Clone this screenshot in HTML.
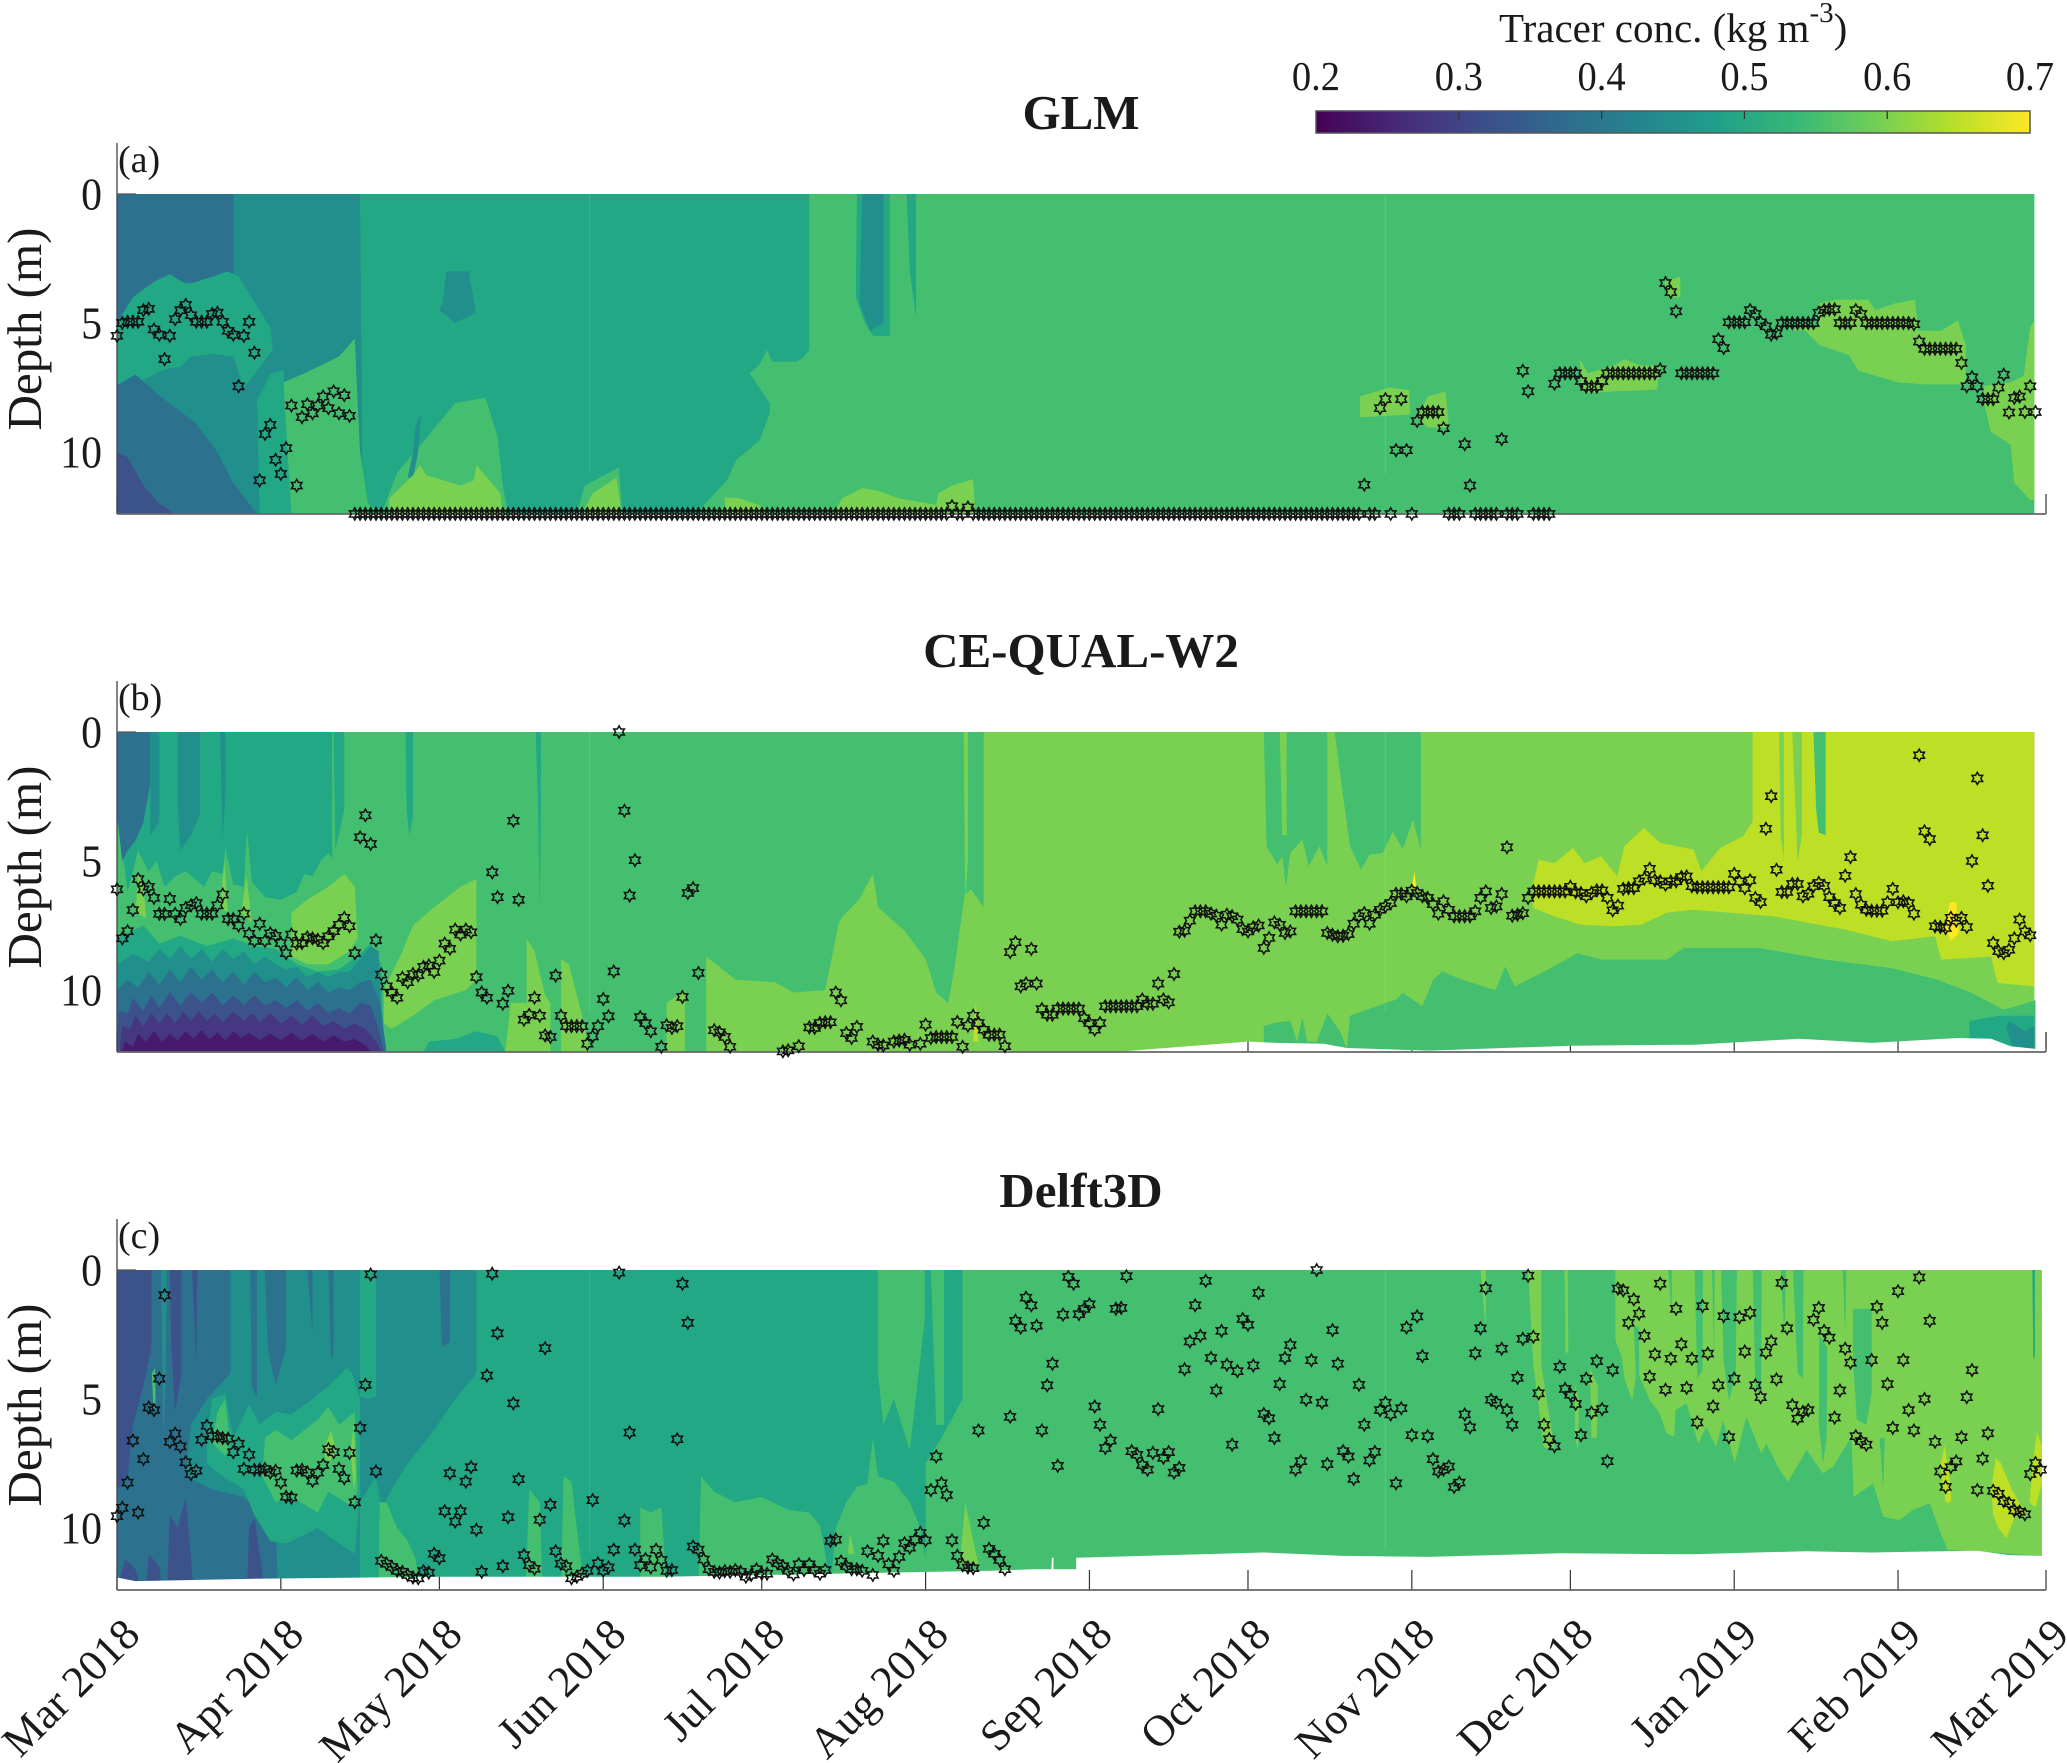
<!DOCTYPE html>
<html lang="en">
<head>
<meta charset="utf-8">
<title>Tracer concentration: GLM, CE-QUAL-W2, Delft3D</title>
<style>
html,body{margin:0;padding:0;background:#fff;}
svg{display:block;font-family:"Liberation Serif",serif;fill:#1a1a1a;}
</style>
</head>
<body>
<svg id="figure" xmlns="http://www.w3.org/2000/svg" width="2067" height="1763" viewBox="0 0 2067 1763">
  <defs>
    <linearGradient id="viridis" x1="0" x2="1" y1="0" y2="0">
      <stop offset="0" stop-color="#440154"/><stop offset="0.111" stop-color="#482878"/>
      <stop offset="0.222" stop-color="#3e4a89"/><stop offset="0.333" stop-color="#31688e"/>
      <stop offset="0.444" stop-color="#26828e"/><stop offset="0.556" stop-color="#1f9e89"/>
      <stop offset="0.667" stop-color="#35b779"/><stop offset="0.778" stop-color="#6ece58"/>
      <stop offset="0.889" stop-color="#b5de2b"/><stop offset="1" stop-color="#fde725"/>
    </linearGradient>
  </defs>
  <rect x="0" y="0" width="2067" height="1763" fill="#fff"/>
  <text x="1499" y="42" font-size="41">Tracer conc. (kg m<tspan dy="-20" font-size="29">-3</tspan><tspan dy="20">)</tspan></text>
  <rect x="1316" y="111" width="714" height="22" fill="url(#viridis)" stroke="#555" stroke-width="1.5"/>
  <text x="1081" y="129" font-size="49" font-weight="bold" text-anchor="middle">GLM</text>
  <text x="1081" y="667" font-size="49" font-weight="bold" text-anchor="middle">CE-QUAL-W2</text>
  <text x="1081" y="1207" font-size="49" font-weight="bold" text-anchor="middle">Delft3D</text>
  <g id="colorbar-axis"></g>
  <g id="panels"></g>
</svg>
<script>
const _ = null;

/* Axis categories and tick labels */
const monthDays = [0,31,61,92,122,153,184,214,245,275,306,337,365];
const monthLabels = ["Mar 2018","Apr 2018","May 2018","Jun 2018","Jul 2018","Aug 2018","Sep 2018","Oct 2018","Nov 2018","Dec 2018","Jan 2019","Feb 2019","Mar 2019"];
const depthTicks = [0,5,10];
const colorbarTicks = [0.2,0.3,0.4,0.5,0.6,0.7];
const panelLetters = ["(a)","(b)","(c)"];
const levelColors = ["#481a6c","#453781","#3b528b","#2c728e","#21908c","#22a884","#44bf70","#7ad151","#bddf26","#fde725"];
const seamDays = [89.4,240];

/* Observed tracer depth (m), one value per day from 1 Mar 2018; ten values per row */
const depthA = [
5.5,5,4.95,4.95,4.95,4.5,4.45,5.25,5.45,6.4,
5.5,4.85,4.5,4.3,4.7,4.95,4.95,4.95,4.65,4.6,
4.95,5.3,5.45,7.45,5.5,4.95,6.15,11.1,9.3,8.95,
10.3,10.85,9.85,8.2,11.3,8.65,8.15,8.5,8.2,7.85,
8.3,7.65,8.5,7.8,8.6,12.4,12.4,12.4,12.4,12.4,
12.4,12.4,12.4,12.4,12.4,12.4,12.4,12.4,12.4,12.4,
12.4,12.4,12.4,12.4,12.4,12.4,12.4,12.4,12.4,12.4,
12.4,12.4,12.4,12.4,12.4,12.4,12.4,12.4,12.4,12.4,
12.4,12.4,12.4,12.4,12.4,12.4,12.4,12.4,12.4,12.4,
12.4,12.4,12.4,12.4,12.4,12.4,12.4,12.4,12.4,12.4,
12.4,12.4,12.4,12.4,12.4,12.4,12.4,12.4,12.4,12.4,
12.4,12.4,12.4,12.4,12.4,12.4,12.4,12.4,12.4,12.4,
12.4,12.4,12.4,12.4,12.4,12.4,12.4,12.4,12.4,12.4,
12.4,12.4,12.4,12.4,12.4,12.4,12.4,12.4,12.4,12.4,
12.4,12.4,12.4,12.4,12.4,12.4,12.4,12.4,12.4,12.4,
12.4,12.4,12.4,12.4,12.4,12.4,12.4,12.4,12.1,12.4,
12.4,12.15,12.4,12.4,12.4,12.4,12.4,12.4,12.4,12.4,
12.4,12.4,12.4,12.4,12.4,12.4,12.4,12.4,12.4,12.4,
12.4,12.4,12.4,12.4,12.4,12.4,12.4,12.4,12.4,12.4,
12.4,12.4,12.4,12.4,12.4,12.4,12.4,12.4,12.4,12.4,
12.4,12.4,12.4,12.4,12.4,12.4,12.4,12.4,12.4,12.4,
12.4,12.4,12.4,12.4,12.4,12.4,12.4,12.4,12.4,12.4,
12.4,12.4,12.4,12.4,12.4,12.4,12.4,12.4,12.4,12.4,
12.4,12.4,12.4,12.4,12.4,12.4,11.27,12.4,12.4,8.3,
7.95,12.4,9.93,7.95,9.93,12.4,8.8,8.45,8.45,8.45,
8.45,9.08,12.4,12.4,12.4,9.7,11.3,12.4,12.4,12.4,
12.4,12.4,9.5,12.4,12.4,12.4,6.85,7.65,12.4,12.4,
12.4,12.4,7.35,6.95,6.95,6.95,6.95,7.25,7.47,7.47,
7.47,7.25,6.95,6.95,6.95,6.95,6.95,6.95,6.95,6.95,
6.95,6.95,6.8,3.45,3.8,4.55,6.95,6.95,6.95,6.95,
6.95,6.95,6.95,5.63,5.97,4.97,4.97,4.97,4.97,4.5,
4.65,4.97,5.13,5.45,5.4,5,5,5,5,5,
5,5,4.6,4.5,4.47,4.47,5,5,5,4.5,
4.65,5,5,5,5,5,5,5,5,5,
5.05,5.72,6,6,6,6,6,6,6,6.55,
7.45,7.1,7.45,7.95,7.95,7.95,7.5,7,8.47,7.9,
7.85,8.45,7.45,8.45];

const depthB = [
6.1,8,7.72,6.9,5.7,6.1,6,6.43,7.05,7.05,
6.47,7.05,7.25,6.82,6.72,6.63,7.04,7.04,7.04,6.72,
6.3,7.25,7.25,7.5,7.04,7.82,8.1,7.43,8.1,7.8,
7.9,8.18,8.57,7.85,8.2,8.18,7.96,8,8.05,8.18,
7.92,7.72,7.47,7.2,7.53,8.57,4.08,3.23,4.34,8.07,
9.4,9.86,10.1,10.3,9.53,9.7,9.38,9.43,9.1,9.05,
9.3,8.86,8.2,8.4,7.66,7.85,7.66,7.76,9.5,10.1,
10.3,5.44,6.4,10.53,10.03,3.44,6.5,11.15,10.96,10.3,
11,11.76,11.82,9.44,11,11.4,11.4,11.4,11.4,12.08,
11.8,11.4,10.35,11.02,9.28,0,3.05,6.34,4.97,11.05,
11.28,11.6,_,12.2,11.37,11.47,11.4,10.27,6.24,6.05,
9.34,_,_,11.56,11.64,11.82,12.2,_,_,_,
_,_,_,_,_,_,12.38,12.34,_,12.18,
_,11.45,11.47,11.28,11.25,11.25,10.1,10.4,11.67,11.86,
11.43,_,_,12,12.12,12.15,_,12,11.96,11.93,
12.12,_,12.08,11.34,11.86,11.82,11.82,11.82,11.82,11.24,
12.2,11.38,11,11.28,11.54,11.73,11.73,11.73,12.18,8.53,
8.15,9.86,9.75,8.41,9.75,10.74,10.96,10.96,10.72,10.72,
10.72,10.72,10.72,11.09,11.28,11.54,11.28,10.63,10.63,10.63,
10.63,10.63,10.63,10.63,10.37,10.53,10.53,9.75,10.37,10.48,
9.38,7.74,7.7,7.31,6.95,6.95,6.95,7.04,7.12,7.47,
7.08,7.14,7.27,7.64,7.73,7.57,7.5,8.37,7.98,7.38,
7.47,7.79,7.73,6.95,6.95,6.95,6.95,6.95,6.95,7.79,
7.86,7.92,7.9,7.83,7.43,7.14,7.02,7.43,7.08,6.89,
6.76,6.63,6.27,6.27,6.37,6.15,6.24,6.37,6.43,6.67,
7.04,6.56,6.89,7.14,7.14,7.14,7.14,6.95,6.43,6.18,
6.82,6.76,6.28,4.47,7.12,7.08,7.02,6.43,6.18,6.18,
6.18,6.18,6.18,6.18,6.18,6,6.21,6.24,6.37,6.24,
6.14,6.14,6.43,6.91,6.73,6.08,6.05,6.05,5.79,5.68,
5.3,5.75,5.79,5.92,5.79,5.79,5.62,5.6,5.98,6.02,
6.02,6.02,6.02,6.02,6.02,6.02,5.5,5.79,6.05,5.75,
6.43,6.59,3.75,2.49,5.34,6.2,6.2,5.89,5.89,6.37,
6.27,5.98,5.85,5.96,6.4,6.63,6.82,5.57,4.85,6.28,
6.69,6.89,6.93,6.93,6.93,6.6,6.08,6.6,6.56,6.63,
7.04,0.9,3.85,4.15,7.53,7.56,7.6,7.2,7.31,7.2,
7.56,5,1.8,4,5.96,8.18,8.5,8.57,8.44,8,
7.27,7.73,7.88];

const depthC = [
9.54,9.22,8.24,6.61,9.4,7.33,5.33,5.43,4.21,0.98,
6.66,6.34,6.84,7.45,7.91,7.78,6.58,6.04,6.44,6.44,
6.51,6.54,7.06,6.73,7.71,7.16,7.74,7.74,7.71,7.85,
7.78,8.24,8.79,8.82,7.77,7.74,7.85,8.17,7.85,7.56,
6.95,7.06,7.71,8.07,7.09,9,6.12,4.45,0.17,7.81,
11.27,11.38,11.51,11.66,11.7,11.82,11.92,11.95,11.67,11.73,
11,11.17,9.35,7.88,9.75,9.35,8.2,7.64,10.07,11.7,
4.09,0.14,2.45,11.48,9.58,5.17,8.11,11.05,11.44,11.58,
9.68,3.03,9.1,10.9,11.38,11.48,11.95,11.89,11.77,11.66,
8.92,11.37,11.66,11.53,10.84,0.1,9.71,6.3,10.84,11.44,
11.2,11.53,10.84,11.24,11.66,11.63,6.56,0.53,2.05,10.72,
10.84,11.22,11.6,11.7,11.73,11.67,11.7,11.63,11.7,11.89,
11.82,11.6,11.77,11.77,11.22,11.37,11.48,11.66,11.8,11.41,
11.63,11.41,11.63,11.77,11.63,10.5,10.45,11.3,11.48,11.6,
11.6,11.66,10.9,11.82,11.08,10.5,11.41,11.66,11.12,10.59,
10.76,10.45,10.19,10.48,8.53,7.23,8.27,8.72,10.48,11.08,
11.44,11.53,11.56,6.22,9.8,10.81,11,11.24,11.6,5.69,
1.97,2.23,1.07,1.37,2.16,6.22,4.47,3.63,7.59,1.73,
0.27,0.53,1.71,1.51,1.33,5.29,6,6.9,6.61,1.5,
1.47,0.24,7.02,7.16,7.56,7.74,7.09,5.39,7.28,7.06,
7.85,7.67,3.85,2.77,1.37,2.55,0.42,3.41,4.67,2.36,
3.67,6.77,3.92,1.9,2.12,3.7,0.89,5.58,5.75,6.51,
4.42,3.41,2.91,7.74,7.41,5.03,3.5,0,5.14,7.52,
2.33,3.63,7.02,7.23,8.1,4.45,6,7.38,7.05,5.43,
5.14,5.6,8.27,5.36,2.23,6.4,1.8,3.34,6.44,7.33,
7.81,7.74,7.62,8.41,8.24,5.6,6.1,3.23,2.26,0.71,
5.03,5.14,3.05,5.43,6,4.18,2.67,0.22,2.59,4.78,
6,6.56,6.83,3.75,4.61,4.83,5.19,6.4,4.21,5.53,
3.53,5.39,7.41,3.88,0.72,0.79,2.05,1.14,1.69,2.55,
4.14,3.27,0.53,4.64,3.44,1.5,2.88,4.57,3.44,5.91,
1.4,3.24,5.29,4.47,1.79,6.48,4.21,1.83,3.16,1.66,
4.47,4.93,3.2,2.77,4.24,0.5,2.26,5.24,5.76,5.5,
5.43,1.93,1.47,2.36,2.62,5.72,4.67,3.05,3.59,6.44,
6.63,6.77,3.49,1.43,2.05,4.42,6.12,0.82,3.49,5.43,
6.22,0.29,5,1.97,6.66,7.81,8.41,7.64,7.42,6.48,
4.93,3.88,8.53,7.31,6.33,8.56,8.67,8.96,9.04,9.32,
9.37,9.47,7.91,7.48,7.74];

/* Filled contour regions: [colour level, day, depth, day, depth, ...] painted in order */
const contourA = [
[6, 0,0,362.8,0,362.8,12.4,0,12.4],
[5, 46,0,131,0,131,6.05,130,6.3,128.7,6.5,124,6.5,123,6.05,121.6,6.6,119.7,6.95,123.5,8.1,123.5,8.5,121.6,9.55,117.2,10.3,115.4,11.1,110.4,12.2,110,12.4,46,12.4],
[5, 140,0,146.2,0,146.2,5.5,143,5.5,141.5,5,139.8,4],
[4, 141,0,145,0,145,5,142.5,5.3,140.5,4.2],
[5, 149.4,0,151.2,0,151.2,4.8,150,3],
[4, 0,0,46,0,46.5,12.4,0,12.4],
[3, 0,0,22,0,22,3.2,18,3.2,15,3.5,10,3.3,5,3.7,2,4.4,0,5.2],
[5, 0,5,3,4,7,3.4,10,3.1,13,3.5,15,3.4,18,3.2,21,3,23,3.2,27,4.5,29,5.2,29.5,6,26,7,24,7.5,22,6.3,18,6.2,14,6.3,12,6.7,9,6.8,5,7.2,0,7.4],
[3, 0,7.4,3.5,7,8,7.8,15,8.9,19,10,22,11.2,26.5,12.4,0,12.4],
[2, 0,10,2,10.2,5,11.3,8,12,11,12.4,0,12.4],
[5, 27,12.4,26.5,8,29,7,31.5,6.8,33,12.4],
[6, 33,12.4,32,9,31.5,7.3,36,6.9,42,6.3,45,5.6,45.5,8,46,10,47.5,12,50,12.4],
[6, 50,12.4,53,10.8,58,9.6,64,8.1,69.7,7.9,72,9.4,73,11.3,74,12.4],
[4, 55,11,56,10,56.5,9,57.5,8.5,57,10,56,11],
[7, 51.5,12.4,51.5,11.8,56,10.9,57.3,10.5,58.5,10.9,65,11.3,67.5,11.1,68,10.5,72.5,11.6,73,12.4],
[4, 61,4.5,61.6,4.2,62.3,3,66.6,3,67.9,4.6,64,5],
[6, 87,12.4,88.5,11.3,95,10.6,95.6,12.4],
[7, 88,12.4,90,11.6,94.5,11,95.5,12.4],
[7, 115,12.4,115,11.75,118,11.8,122,12.1,122,12.4],
[7, 135.5,12.4,137.2,11.8,141,11.4,144,11.5,148,11.8,155,12.05,155.4,11.6,158,11.3,162,11.05,162.4,12.4],
[7, 235.2,8.65,235.2,7.85,240.8,7.5,244.5,7.6,244.7,8.55],
[7, 246,8.65,248,7.85,251.4,7.65,252,9.05,248,9.05],
[7, 277,6.95,276.8,6.4,278.3,6.95,283.3,6.65,285.2,6.4,288.3,6.65,292,6.65,291.4,7.58,283.3,7.65,278.3,7.7,277,7.4],
[7, 292.8,3.4,295.8,3.2,295.8,4,293.5,4],
[7, 315.8,5.25,322,5.17,322,4.24,325.2,4.1,331.4,4.1,332.7,4.5,336.4,4.24,340.2,4.1,340.8,5.3,345.2,5.3,348.3,4.9,349.8,5.84,349.8,7.38,342,7.38,337,7.3,329.5,6.85,327.7,6.24,322,5.84,319.5,5.3],
[7, 353.3,8.1,354.5,9.2,358.3,9.72,359,11.2,362,11.85,362.8,11.85,362.8,4.9,362,5.17,360.8,7.05,358.3,7.3,353.3,7.45]
];

const contourB = [
[7, 0,0,362.8,0,362.8,12.4,0,12.4],
[6, 0,0,164,0,164,12.4,0,12.4],
[5, 0,0,40.7,0,40.7,4.9,40,4.7,38.5,5,37,5.6,35.5,5.5,34,6.2,31,6.5,28,6.4,25.5,5.8,24.6,3.8,24,6,22,5.9,20.5,4.5,20,5.5,18,5.4,16.5,6,13,5.4,11,5.6,9,6,7.5,5,6,5.4,4,4.6,2,6.2,0,2.9],
[3, 0,0,6.3,0,6.3,2,5,3.5,3.5,4.2,2,4.6,1,5,0,3.2],
[4, 6.3,0,8,0,8,3.5,6.3,4],
[4, 11.5,0,15.7,0,15.7,3.2,14,4,12,4.6,11.5,3],
[4, 19.5,0,20.5,0,20.5,2.5,20,4.2],
[5, 41,0,43,0,43,3,42,4,41.3,4.5],
[5, 54.6,0,56,0,56,3.3,55.3,4,54.8,3],
[5, 79.2,0,80.2,0,80.2,3,80,7,79.7,3],
[7, 33,7,36,6.5,40,6,43,5.5,45,6,45.5,8,44,8.5,40,9,36,9,33,8.7],
[7, 3.5,7,4,5.5,5,6,5.5,7.2],
[7, 19.5,6.8,20.3,5,21,7],
[7, 23.5,7,24.5,5.6,25.5,7.4],
[5, 0,8,5,7.5,8,8.2,12,7.9,17,8.3,22,8,26,8.3,30,8.4,34,9,38,9.3,42,9.2,46,8.6,48,8.2,50,9,50.5,12.4,0,12.4],
[4, 0,9,3,8.6,6,8.9,8,8.4,10,8.8,12,8.3,14,8.8,16,8.4,18,8.9,20,8.4,22,8.8,24,8.5,26,9,28,8.7,30,9,32,9.2,34,9.1,36,9.5,38,9.3,40,9.5,42,9.3,44,9.3,46,8.8,48,8.3,49.5,8.5,50,11,51,12.4,0,12.4],
[3, 0,12.4,0,10,2,9.6,4,9.9,6,9.3,8,9.8,10,9.2,12,9.7,14,9.1,16,9.6,18,9.2,20,9.7,22,9.3,24,9.8,26,9.3,28,9.7,30,9.5,32,9.9,34,9.5,36,10,38,9.7,40,10.1,42,9.9,44,10,46,9.7,48,9.6,49.8,10.5,51,12.4],
[2, 0,12.4,0.3,10.8,2,10.9,3,10.3,5,10.8,6.5,10.2,8,10.7,10,10.1,12,10.6,14,10.1,16,10.5,18,10.1,20,10.6,22,10.2,24,10.6,26,10.2,28,10.6,30,10.4,32,10.7,34,10.4,36,10.8,38,10.5,40,10.9,42,10.7,44,10.9,46,10.5,48,10.6,49.5,11.5,50.5,12.4],
[1, 0.5,12.4,1,11.4,2.5,11.5,3.5,11,5,11.4,6.5,10.9,8,11.3,9.5,10.9,11,11.3,12.5,10.85,14,11.2,15.5,10.8,17,11.2,18.5,10.9,20,11.25,22,10.85,24,11.2,25.5,10.9,27,11.25,29,10.9,31,11.3,33,11,35,11.35,37,11,39,11.4,41,11.2,43,11.5,45,11.3,47,11.5,49,12,50,12.4],
[0, 1,12.4,1.5,12,3,12.2,4,11.7,5.5,12,7,11.6,8.5,12,10,11.7,11.5,11.95,13,11.6,14.5,11.9,16,11.55,17.5,11.9,19,11.65,20.5,11.95,22,11.6,23.5,11.85,25,11.65,27,11.95,29,11.7,31,11.95,33,11.65,35,11.95,37,11.7,39,12,41,11.75,43,12,45,11.9,47,12.15,48,12.4],
[7, 50.5,10,54,8.5,56,7.5,60,6.8,65,6,68,5.7,68,9.6,66,10,60,10.4,56,11,52,11.5,50.5,11.3],
[5, 58,12.4,59,12,64,11.9,68,11.6,72,11.8,73.5,12.4],
[7, 73.5,12.4,74.5,10.5,77.5,10.5,77.5,12.4],
[7, 77.5,12.4,77.5,8,79,8.5,81,10.2,82,10.5,82,12.4],
[7, 84,12.4,84,8.8,85.5,9,88,11,89.5,12.4],
[7, 104,12.4,104,10.5,107.5,10,107.5,12.4],
[7, 111.5,12.4,111.5,8.7,117,9.6,124.5,9.7,128,10.1,134,10,136.6,7.4,137.3,7.15,140.4,6.5,143,5.5,144,6.8,149,7.7,153,8.8,155,10.1,157.3,10.5,158.5,9.1,160.4,6.3,161.6,6.1,164,6.8,164,12.4],
[7, 160.2,0,161,0,161,5,160.5,6.5],
[8, 162,12,162.5,10.4,163,12],
[6, 217,0,229,0,229,5.2,227.5,4.43,225.5,5.2,224.3,4.17,222,4.69,221.2,6,220.5,4.82,219.5,5.14,217.5,4.43],
[7, 220,0,221.3,0,221.3,4,220.5,4],
[6, 230.4,0,246.7,0,246.7,4.56,245.2,3.4,243.3,4.56,241.4,3.85,239.5,4.69,237,4.75,235.4,5.34,233.3,4.43,232,2.5],
[6, 217,12.4,217,11.4,219.5,11.25,222,11.2,223.3,12,224.3,11.08,225.2,12,227,12,229,10.9,231.4,11.6,232.7,12.25,233.3,11,238.3,10.63,242,10.37,243.3,10.1,247,10.63,249,9.6,250.8,9.28,254.5,9.6,260.8,10,262.7,9.08,264.5,9.86,270.8,9.2,276.4,8.57,280.8,8.82,293.3,8.82,296.4,8.37,310.8,8.37,323.3,8.82,335.8,9.15,344.5,9.6,350.8,10.1,357,10.76,363,10.4,363,12.4],
[5, 350.5,12.4,350.5,11.2,356,11,362.8,11,362.8,12.4],
[4, 357.5,11.5,358,11.2,361,11.6,362.8,11.4,362.8,12.4,359,12.4],
[8, 309.5,0,362.8,0,362.8,9.86,355.8,9.73,354.6,8.7,345.2,8.82,344,7.92,335.8,8.11,327,7.66,313.3,7.14,298.3,6.89,293.3,7,288.3,7.47,283.3,7.53,277,7.47,272,7.14,268,6.82,268,5.85,269,4.95,272,5.08,275.5,4.5,277.7,5.08,280.8,4.82,283.9,5.6,285.2,4.43,288.9,3.72,292,4.3,298.3,4.56,299.8,5.4,303.3,4.5,307.7,4.04,309.5,3.46],
[7, 314.5,0,315.4,0,315.4,4.9,314.8,4],
[7, 317,0,318.8,0,318.8,4,318,5],
[6, 321,0,323.3,0,323.3,4,322,3.9,321.5,3],
[9, 346,7.6,346.8,6.6,348,6.6,348.5,7.8,347,8.1],
[9, 245,6,245.5,5.4,246,6.3]
];
const whiteB = [189.5,12.39,214,12,219.5,12.05,228.3,12.08,232.7,12.25,248.3,12.35,275.2,12.16,298.3,12.12,318.3,11.89,332,12.05,348.3,11.86,354.6,11.89,358.3,12.18,363.3,12.29];

const contourC = [
[6, 0,0,364.2,0,364.2,12.4,0,12.4],
[5, 0,0,160,0,160,12.4,0,12.4],
[6, 144,0,152.8,0,152.8,2,150,7,147,5,145,6,144,4],
[6, 154,0,156.5,0,156.5,6,155,6],
[6, 153,12.4,153,7.5,156,6.5,160,5,160,12.4],
[6, 110,12.4,110.5,8,113,8.6,117,9,122,8.8,127,9.3,131,9.4,133,9.9,134,11,135,12.4],
[6, 135,12.4,136,10,138,9,140,8.4,142,8.3,143,6.5,144,8,147,8.2,150,9,152,10,154,12.4],
[7, 138.3,11,138.7,10.2,139.5,11],
[7, 159.5,11.4,160.5,9,162,10.5,163,11.4],
[4, 0,0,46,0,46,12.4,0,12.4],
[4, 49,0,68,0,68,4,64,5,60,6.2,55,7.5,52,8.5,50,9.3,49,8],
[4, 46,4.9,47.5,5,49,4.9,49,8,46,9],
[3, 0,0,21.5,0,21.5,4,17,5,14,6,13,8,18,8.5,24,8.8,30,10,30.5,12.4,0,12.4],
[3, 25.2,0,26.5,0,26.5,5,25.5,4.5],
[3, 28,0,32,0,32,3,30,4.5,28.5,3],
[3, 36,0,37,0,37,2.5],
[3, 40,0,41,0,41,3.2,40.5,3.5],
[3, 61,0,63,0,63,2.8,61.5,3],
[2, 0,0,6.5,0,6.5,3,5,4.5,3,6,2,8,0,8.5],
[2, 10,0,12.2,0,12.2,4,11,5.5,10.3,3],
[2, 14.2,0,15.2,0,15,3.5],
[2, 5.5,12.4,6,11,8,11.5,8.5,12.4],
[2, 0,12.4,1.5,11.2,3.5,11.6,4.5,12.4],
[2, 9.5,12.4,10,9.5,11.5,10,13,8.8,14.5,12.4],
[2, 24.6,12.4,25,10,26,9.6,27.4,11.5,27.7,12.4],
[4, 8.3,0,9.4,0,9.2,4,8.8,6.5],
[6, 6.6,4,7.2,3.8,7.3,5.2,6.9,5.5],
[5, 17,6.5,18,5,20.5,4.8,22,6.5,25,5.2,27,6,30,5.5,33,5.6,37,5,40,4.5,43.5,3.8,44.5,4,46,5,46,8.5,45,11,42,10.6,38,10,32,10.6,29,10.5,26,9.5,24,8.5,20,8,17,7.5],
[6, 18,6.7,19,5.5,20.5,5,21.4,6.8,20.5,7.2],
[6, 27.5,8,28,6.5,30,6.2,33,6.6,38,5.8,40,5.3,42,6,45,5.5,45.5,8.5,44.8,9.2,40,8.6,38,9.4,33,8.8,30,9],
[7, 39,7,40.5,6.2,41.5,7,40,7.5],
[7, 44.2,7,44.8,6,45.2,8,44.8,8.5],
[6, 49.5,12.4,49.7,9,51,9,53,10,55,10.5,56.5,11.2,57.5,12.4],
[6, 77.3,12.4,78,8.5,80,9,80.5,12.4],
[6, 84,12.4,84.5,8,86,8.2,87,10,88.5,12.4],
[6, 99,12.4,99,9.2,101,9.4,103,9.2,104,12.4],
[7, 267,0,269.5,0,269.5,3.7,272,6.9,270,6.9,268,3.7],
[7, 258,0,259,0,259,2.3],
[7, 273.9,0,274.5,0,274.6,3.2,274.1,3.2],
[7, 275.8,4.4,276.6,5,276.5,6.3,276.4,7,275.9,6.5],
[7, 278.7,3.8,280.2,4.5,280,6.5,279,6.5],
[7, 283.5,0,283.5,2.71,284.7,3.36,285.3,4.26,286.7,5.04,287.6,3.88,290,5.04,291.9,5.56,293.2,6.33,294.6,6.46,294.9,5.43,297,5.17,299.2,6.72,300.7,6.07,302.6,6.85,303.9,5.81,306.1,7.49,308.3,5.68,311.1,7.11,312.1,6.72,314.6,7.75,316.2,8.2,319.7,6.98,322.8,7.88,324.7,7.62,328.2,6.46,328.6,8.79,332.3,8.27,334.2,9.56,337.3,9.69,339.8,9.3,343,9.04,344.6,9.95,346.4,10.85,351.8,10.92,357.5,10.98,364.2,11.08,364.2,0],
[6, 287,2.2,288,2.2,288,4,287.5,4.6],
[6, 293.5,0,294.2,0,294.2,1.8],
[6, 298.5,0,300.1,0,300,3.9,299,4.2],
[6, 301.8,0,302.3,0,302.2,3.5],
[6, 303.5,0,306.5,0,306.3,4,305,5.1,304,3.5],
[6, 309.5,0,311.2,0,311.1,4.8,310,4.6],
[6, 314.8,0,315.8,0,315.5,2.5],
[6, 317.1,0,319.1,0,319,4.2,318,4],
[6, 322.1,2.5,323.6,3,323.5,6.5,322.8,7.5,322,6],
[6, 326.5,0,327.2,0,327,2.5],
[6, 328.5,1.5,332,1.5,332,4.8,331,6,329.2,5.8,328.5,3.5],
[6, 333.5,6.5,334.5,6.5,334.2,8.5],
[5, 362.4,0,362.9,0,362.9,3.3,362.6,3.5],
[8, 345,7.6,345.8,6.8,347,8.4,347,9,346,9],
[8, 354.6,8.5,355.5,7.3,356.5,7.5,358.5,8.5,361,9.4,359,9.6,357.5,10.4,356,10,355,9.5],
[8, 361.9,9,362.5,7.5,363.3,6.3,364.2,6.8,364.2,8.3,363,9.2]
];
const whiteC = [0,11.92,3.5,12.06,27.9,11.96,61,11.89,102.9,11.89,165.4,11.66,173.3,11.6,176.8,11.6,176.9,11.15,177.2,11.15,177.2,11.6,181.5,11.6,181.5,11.15,217,10.95,232,11.08,248,11.12,273,10.98,298,11.02,319.5,10.9,332,10.95,352,10.88,358,11.05,364.2,11.08];

const panelTops = [194,732,1270];
const panelContours = [contourA,contourB,contourC];
const panelWhites = [null,whiteB,whiteC];
const panelDepths = [depthA,depthB,depthC];
const panelKeys = ["a","b","c"];

const SVGNS = "http://www.w3.org/2000/svg";
const xOf = d => 117 + d * 5.285;
const yOf = (top, z) => top + z * 25.8;
const cbX = v => 1316 + (v - 0.2) / 0.5 * 714;

function make(tag, attrs, parent, txt) {
  const el = document.createElementNS(SVGNS, tag);
  for (const k in attrs) el.setAttribute(k, attrs[k]);
  if (txt !== undefined) el.textContent = txt;
  parent.appendChild(el);
  return el;
}
function regionPoints(flat, start, top) {
  const out = [];
  for (let i = start; i < flat.length; i += 2) out.push(xOf(flat[i]).toFixed(1) + "," + yOf(top, flat[i + 1]).toFixed(1));
  return out;
}
function starPoints(cx, cy) {
  const R = 6.1, r = 3.5, pts = [];
  for (let i = 0; i < 12; i++) {
    const a = -Math.PI / 2 + i * Math.PI / 6, q = i % 2 ? r : R;
    pts.push((cx + q * Math.cos(a)).toFixed(1) + "," + (cy + q * Math.sin(a)).toFixed(1));
  }
  return pts.join(" ");
}
function maskDepthAt(line, day) {
  if (day < line[0]) return null;
  for (let i = 0; i + 3 < line.length; i += 2) {
    if (day >= line[i] && day <= line[i + 2]) {
      const span = line[i + 2] - line[i];
      const f = span > 0 ? (day - line[i]) / span : 0;
      return line[i + 1] + f * (line[i + 3] - line[i + 1]);
    }
  }
  return 0;
}

const cbGroup = document.getElementById("colorbar-axis");
colorbarTicks.forEach(v => {
  if (v > 0.2 && v < 0.7) {
    const tick = make("line", {x1: cbX(v), x2: cbX(v), y1: 111, y2: 119, stroke: "#333", "stroke-width": 1.3}, cbGroup);
    
    
  }
  const lab = make("text", {transform: "translate(" + cbX(v) + ",90) scale(0.94,1)", "font-size": 41, "text-anchor": "middle"}, cbGroup, v.toFixed(1));
  
  
});

const root = document.getElementById("panels");
panelTops.forEach((top, p) => {
  const bottom = top + 320;
  const g = make("g", {}, root);
  
  

  monthDays.forEach(d => {
    const tick = make("line", {x1: xOf(d), x2: xOf(d), y1: bottom, y2: bottom - 20, stroke: "#333", "stroke-width": 1.2}, g);
    
    
  });

  const field = make("g", {}, g);
  
  
  panelContours[p].forEach(reg => {
    const poly = make("polygon", {points: regionPoints(reg, 1, top).join(" "), fill: levelColors[reg[0]]}, field);
    
    
  });
  const whiteLine = panelWhites[p];
  if (whiteLine) {
    const pts = regionPoints(whiteLine, 0, top);
    const lastDay = whiteLine[whiteLine.length - 2], firstDay = whiteLine[0];
    pts.push(xOf(lastDay + 2).toFixed(1) + "," + yOf(top, whiteLine[whiteLine.length - 1]).toFixed(1));
    pts.push(xOf(lastDay + 2).toFixed(1) + "," + bottom);
    pts.push(xOf(firstDay).toFixed(1) + "," + bottom);
    const w = make("polygon", {points: pts.join(" "), fill: "#fff"}, field);
    
    
    monthDays.forEach(d => {
      const z = maskDepthAt(whiteLine, d);
      if (z === null) return;
      const yTop = Math.max(yOf(top, z), bottom - 20);
      const tick = make("line", {x1: xOf(d), x2: xOf(d), y1: bottom, y2: yTop, stroke: "#333", "stroke-width": 1.2}, g);
      
      
    });
  }
  seamDays.forEach(d => {
    const seam = make("line", {x1: xOf(d), x2: xOf(d), y1: top, y2: bottom - 40, stroke: "#fff", "stroke-opacity": 0.13, "stroke-width": 1}, field);
    
    
  });

  const yAxis = make("line", {x1: 117, x2: 117, y1: top - 51, y2: bottom, stroke: "#444", "stroke-width": 1.3}, g);
  
  
  const xAxis = make("line", {x1: 117, x2: xOf(365), y1: bottom, y2: bottom, stroke: "#666", "stroke-width": 1.8}, g);
  
  
  const zeroTick = make("line", {x1: 117, x2: 136, y1: top, y2: top, stroke: "#555", "stroke-width": 1.2}, g);
  
  

  depthTicks.forEach(z => {
    const lab = make("text", {transform: "translate(102," + (yOf(top, z) + 15.5) + ") scale(0.93,1)", "font-size": 45, "text-anchor": "end"}, g, String(z));
    
    
  });
  const yTitle = make("text", {transform: "translate(41," + (top + 135) + ") rotate(-90)", "font-size": 49, "text-anchor": "middle", textLength: 203, lengthAdjust: "spacingAndGlyphs"}, g, "Depth (m)");
  
  
  const letter = make("text", {x: 118, y: top - 22, "font-size": 38}, g, panelLetters[p]);
  
  

  const stars = make("g", {fill: "none", stroke: "#111", "stroke-width": 1.5}, g);
  
  
  panelDepths[p].forEach((z, day) => {
    if (z === null) return;
    const star = make("polygon", {points: starPoints(xOf(day), yOf(top, z))}, stars);
    
    
  });

  if (p === 2) {
    monthDays.forEach((d, i) => {
      const ax = xOf(d) + 25, ay = 1637;
      const lab = make("text", {transform: "translate(" + ax + "," + ay + ") rotate(-45)", "font-size": 44, "text-anchor": "end"}, g, monthLabels[i]);
      
      
    });
  }
});
</script>
</body>
</html>
